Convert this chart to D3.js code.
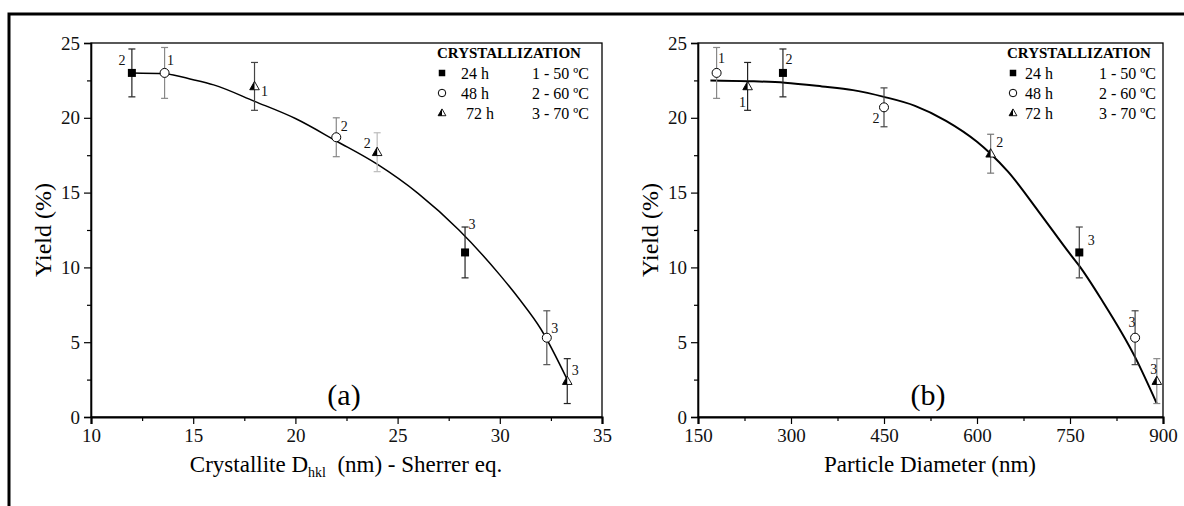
<!DOCTYPE html>
<html>
<head>
<meta charset="utf-8">
<script src="https://cdn.jsdelivr.net/npm/d3@7"></script>
<style>
  body { margin: 0; background: #fff; }
  svg { display: block; }
  svg text { font-family: "Liberation Serif", "Times New Roman", Times, "DejaVu Serif", serif !important; }
</style>
</head>
<body>
<div id="chart"></div>
<script>
// samples: crystallization time (h) and temperature code (1 = 50, 2 = 60, 3 = 70 ºC)
const sampleTime = [24, 24, 48, 48, 48, 72, 72, 72];
const sampleTemp = [2, 3, 1, 2, 3, 1, 2, 3];
const crystalliteD = [12.0, 28.3, 13.6, 22.0, 32.3, 18.0, 24.0, 33.3];
const particleDiam = [287, 765, 180, 450, 855, 230, 622, 890];
const yieldA = [23.0, 11.0, 23.0, 18.7, 5.3, 22.1, 17.7, 2.4];
const yieldB = [23.0, 11.0, 23.0, 20.7, 5.3, 22.1, 17.6, 2.4];
const yieldErr = [1.6, 1.7, 1.7, 1.3, 1.8, 1.6, 1.3, 1.5];

// fitted curves
const curveAx = [12.0, 13.6, 15, 16, 18, 20, 22, 24, 26, 28, 30, 31, 32, 33.3];
const curveAy = [23.0, 22.95, 22.55, 22.2, 21.1, 19.95, 18.45, 16.9, 14.95, 12.5, 9.5, 7.8, 5.9, 2.5];
const curveBx = [170, 230, 290, 350, 400, 450, 500, 550, 600, 622, 650, 700, 750, 765, 800, 855, 890];
const curveBy = [22.5, 22.45, 22.35, 22.1, 21.85, 21.4, 20.8, 19.8, 18.4, 17.6, 16.4, 13.7, 10.9, 10.1, 7.9, 4.0, 0.9];

const legendTimes = ['24 h', '48 h', '72 h'];
const legendTemps = ['1 - 50 ºC', '2 - 60 ºC', '3 - 70 ºC'];

const yTicks = [0, 5, 10, 15, 20, 25];
const yMinor = [2.5, 7.5, 12.5, 17.5, 22.5];
const xTicksA = [10, 15, 20, 25, 30, 35];
const xMinorA = [12.5, 17.5, 22.5, 27.5, 32.5];
const xTicksB = [150, 300, 450, 600, 750, 900];
const xMinorB = [225, 375, 525, 675, 825];

// label offsets (dx, dy) and error-bar greys, per sample, per panel
const labelOffA = [[-10, -12], [7, -28], [6, -12], [8, -11], [8, -9], [10, 5], [-10, -9], [8, -11]];
const labelOffB = [[6, -13], [12, -12], [5, -14], [-8, 11], [-3, -15], [-5, 16], [9, -11], [-3, -12]];
const errColA = ['#222', '#222', '#888', '#888', '#555', '#444', '#bbb', '#222'];
const errColB = ['#222', '#444', '#888', '#444', '#444', '#222', '#777', '#888'];

const W = 1184, H = 506;
const plotTop = 43, plotBottom = 417;
const serif = '"Liberation Serif", "Times New Roman", Times, "DejaVu Serif", serif';

const svg = d3.select('#chart').append('svg').attr('width', W).attr('height', H)
  .attr('font-family', serif);

// outer frame
svg.append('path')
  .attr('d', `M9,${H + 5} V14 H${W + 5}`)
  .attr('fill', 'none').attr('stroke', '#000').attr('stroke-width', 3);

function marker(g, time, size) {
  if (time === 24) {
    g.append('rect').attr('x', -size / 2).attr('y', -size / 2)
      .attr('width', size).attr('height', size).attr('fill', '#000');
  } else if (time === 48) {
    g.append('circle').attr('r', size / 2 + 0.5).attr('fill', '#fff')
      .attr('stroke', '#000').attr('stroke-width', 1);
  } else {
    const h = size * 1.05, w = size * 1.2;
    g.append('path').attr('d', `M0,${-h * 0.6} L${w / 2},${h * 0.4} L${-w / 2},${h * 0.4} Z`)
      .attr('fill', '#fff').attr('stroke', '#000').attr('stroke-width', 0.9);
    g.append('path').attr('d', `M0,${-h * 0.6} L0,${h * 0.4} L${-w / 2},${h * 0.4} Z`)
      .attr('fill', '#000');
  }
}

function panel(opt) {
  const x = d3.scaleLinear().domain(opt.xDomain).range([opt.x0, opt.x1]);
  const y = d3.scaleLinear().domain([0, 25]).range([plotBottom, plotTop]);
  const g = svg.append('g');

  // box (top + right)
  g.append('rect').attr('x', opt.x0).attr('y', plotTop)
    .attr('width', opt.x1 - opt.x0).attr('height', plotBottom - plotTop)
    .attr('fill', 'none').attr('stroke', '#000').attr('stroke-width', 1.3);

  const xAxis = g.append('g').attr('transform', `translate(0,${plotBottom})`)
    .call(d3.axisBottom(x).tickValues(opt.xTicks).tickSize(7).tickPadding(5).tickFormat(d3.format('d')));
  g.append('g').attr('transform', `translate(0,${plotBottom})`)
    .call(d3.axisBottom(x).tickValues(opt.xMinor).tickSize(4).tickFormat(''))
    .select('.domain').remove();
  const yAxis = g.append('g').attr('transform', `translate(${opt.x0},0)`)
    .call(d3.axisLeft(y).tickValues(yTicks).tickSize(7).tickPadding(4).tickFormat(d3.format('d')));
  g.append('g').attr('transform', `translate(${opt.x0},0)`)
    .call(d3.axisLeft(y).tickValues(yMinor).tickSize(4).tickFormat(''))
    .select('.domain').remove();

  g.selectAll('.tick text').attr('font-size', 19).attr('fill', '#111')
    .attr('font-family', serif);
  g.selectAll('.tick line').attr('stroke', '#000').attr('stroke-width', 1.2);
  xAxis.select('.domain').attr('stroke-width', 2.2);
  yAxis.select('.domain').attr('stroke-width', 1.6);

  // fitted curve
  const pts = d3.zip(opt.cx, opt.cy);
  g.append('path').datum(pts)
    .attr('d', d3.line().x((d) => x(d[0])).y((d) => y(d[1])).curve(d3.curveMonotoneX))
    .attr('fill', 'none').attr('stroke', '#000').attr('stroke-width', opt.lineW);

  // error bars
  const idx = d3.range(sampleTime.length);
  idx.forEach((i) => {
    const px = x(opt.xs[i]);
    const lo = y(opt.ys[i] - yieldErr[i]), hi = y(opt.ys[i] + yieldErr[i]);
    const eg = g.append('g').attr('stroke', opt.errCol[i]).attr('stroke-width', 1.2);
    eg.append('line').attr('x1', px).attr('x2', px).attr('y1', lo).attr('y2', hi);
    eg.append('line').attr('x1', px - 3.5).attr('x2', px + 3.5).attr('y1', lo).attr('y2', lo);
    eg.append('line').attr('x1', px - 3.5).attr('x2', px + 3.5).attr('y1', hi).attr('y2', hi);
  });

  // markers + temperature labels
  idx.forEach((i) => {
    const mg = g.append('g').attr('transform', `translate(${x(opt.xs[i])},${y(opt.ys[i])})`);
    marker(mg, sampleTime[i], 8);
    g.append('text')
      .attr('x', x(opt.xs[i]) + opt.labelOff[i][0])
      .attr('y', y(opt.ys[i]) + opt.labelOff[i][1])
      .attr('text-anchor', 'middle').attr('dominant-baseline', 'central')
      .attr('font-size', 14).attr('fill', '#111')
      .text(sampleTemp[i]);
  });

  // legend
  const lg = g.append('g');
  lg.append('text').attr('x', opt.legX).attr('y', 58)
    .attr('font-size', 15).attr('font-weight', 'bold').text('CRYSTALLIZATION');
  legendTimes.forEach((t, k) => {
    const ly = 73 + k * 20;
    const sg = lg.append('g').attr('transform', `translate(${opt.legX + opt.symDx},${ly})`);
    marker(sg, [24, 48, 72][k], 6.5);
    lg.append('text').attr('x', opt.legX + opt.timeDx + (k === 2 ? opt.indent72 : 0)).attr('y', ly)
      .attr('dominant-baseline', 'central').attr('font-size', 16).text(t);
    lg.append('text').attr('x', opt.legX + opt.tempDx).attr('y', ly)
      .attr('dominant-baseline', 'central').attr('font-size', 16).text(legendTemps[k]);
  });

  // panel tag
  g.append('text').attr('x', opt.tagX).attr('y', 394)
    .attr('text-anchor', 'middle').attr('dominant-baseline', 'central')
    .attr('font-size', 30).text(opt.tag);

  // y title
  g.append('text')
    .attr('transform', `translate(${opt.x0 - 48},${(plotTop + plotBottom) / 2}) rotate(-90)`)
    .attr('text-anchor', 'middle').attr('dominant-baseline', 'central')
    .attr('font-size', 24).text('Yield (%)');

  return g;
}

const gA = panel({
  x0: 91, x1: 602, xDomain: [10, 35], xTicks: xTicksA, xMinor: xMinorA,
  xs: crystalliteD, ys: yieldA, cx: curveAx, cy: curveAy, lineW: 1.5,
  labelOff: labelOffA, errCol: errColA,
  legX: 437, symDx: 5, timeDx: 24, indent72: 5, tempDx: 95,
  tag: '(a)', tagX: 344
});

const gB = panel({
  x0: 698, x1: 1163, xDomain: [150, 900], xTicks: xTicksB, xMinor: xMinorB,
  xs: particleDiam, ys: yieldB, cx: curveBx, cy: curveBy, lineW: 2,
  labelOff: labelOffB, errCol: errColB,
  legX: 1007, symDx: 6, timeDx: 18, indent72: 0, tempDx: 92,
  tag: '(b)', tagX: 928
});

// x titles
const tA = svg.append('text').attr('x', 346).attr('y', 472)
  .attr('text-anchor', 'middle').attr('font-size', 23);
tA.append('tspan').text('Crystallite D');
tA.append('tspan').attr('font-size', 14).attr('dy', 5).text('hkl');
tA.append('tspan').attr('dy', -5).text('\u00a0 (nm) - Sherrer eq.');

svg.append('text').attr('x', 930).attr('y', 472)
  .attr('text-anchor', 'middle').attr('font-size', 23).text('Particle Diameter (nm)');
</script>
</body>
</html>
